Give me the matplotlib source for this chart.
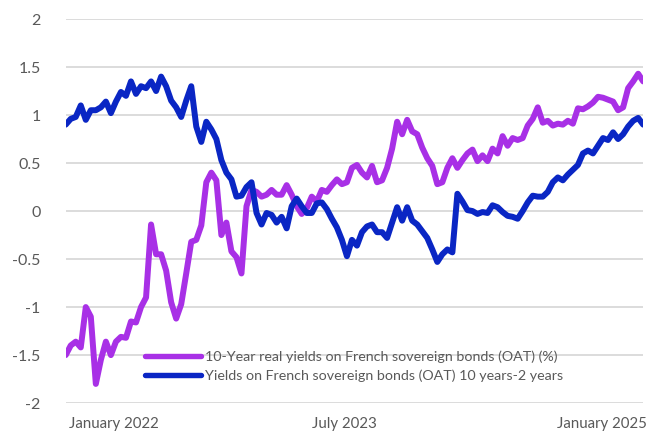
import matplotlib
matplotlib.use("Agg")
import matplotlib.pyplot as plt
import numpy as np
import pandas as pd

# ─── Data (roughly every 11 days) ───
START, END = "2021-12-24", "2025-07-15"

real_yield = [
    -1.50, -1.40, -1.36, -1.42, -1.00, -1.10, -1.80, -1.55, -1.36, -1.50,
    -1.36, -1.31, -1.32, -1.15, -1.16, -1.00, -0.90, -0.14, -0.45, -0.45,
    -0.62, -0.95, -1.12, -0.97, -0.65, -0.32, -0.30, -0.15, 0.30, 0.40,
    0.32, -0.25, -0.12, -0.42, -0.48, -0.65, 0.05, 0.22, 0.20, 0.15,
    0.17, 0.22, 0.17, 0.17, 0.27, 0.17, 0.05, -0.03, 0.03, 0.15,
    0.10, 0.22, 0.20, 0.27, 0.33, 0.28, 0.30, 0.45, 0.48, 0.40,
    0.35, 0.47, 0.30, 0.32, 0.45, 0.65, 0.93, 0.80, 0.95, 0.83,
    0.80, 0.66, 0.55, 0.47, 0.28, 0.30, 0.45, 0.55, 0.45, 0.53,
    0.60, 0.64, 0.52, 0.58, 0.52, 0.65, 0.60, 0.78, 0.68, 0.76,
    0.74, 0.76, 0.89, 0.96, 1.08, 0.92, 0.94, 0.89, 0.91, 0.90,
    0.94, 0.91, 1.07, 1.06, 1.09, 1.13, 1.19, 1.18, 1.16, 1.14,
    1.05, 1.08, 1.28, 1.35, 1.43, 1.35,
]

spread_10y_2y = [
    0.90, 0.96, 0.98, 1.10, 0.95, 1.05, 1.05, 1.08, 1.14, 1.02,
    1.14, 1.24, 1.20, 1.35, 1.22, 1.30, 1.28, 1.35, 1.25, 1.40,
    1.30, 1.15, 1.08, 0.98, 1.15, 1.30, 0.88, 0.72, 0.93, 0.85,
    0.75, 0.53, 0.40, 0.33, 0.15, 0.16, 0.25, 0.30, -0.02, -0.14,
    -0.02, -0.04, -0.12, -0.06, -0.18, 0.05, 0.13, 0.05, -0.02, -0.02,
    0.08, 0.09, 0.02, -0.08, -0.17, -0.30, -0.47, -0.30, -0.36, -0.22,
    -0.16, -0.14, -0.22, -0.22, -0.28, -0.12, 0.04, -0.10, 0.04, -0.10,
    -0.14, -0.21, -0.28, -0.40, -0.53, -0.45, -0.40, -0.43, 0.18, 0.10,
    0.01, 0.00, -0.03, -0.01, -0.02, 0.06, 0.04, -0.01, -0.05, -0.06,
    -0.08, 0.00, 0.09, 0.16, 0.15, 0.15, 0.20, 0.30, 0.35, 0.32,
    0.38, 0.43, 0.48, 0.60, 0.63, 0.60, 0.68, 0.76, 0.74, 0.82,
    0.75, 0.80, 0.88, 0.94, 0.97, 0.90,
]

LABEL_REAL = "10-Year real yields on French sovereign bonds (OAT) (%)"
LABEL_SPREAD = "Yields on French sovereign bonds (OAT) 10 years-2 years"
TICK_DATES = ["2022-01-01", "2023-07-01", "2025-01-01"]
TICK_LABELS = ["January 2022", "July 2023", "January 2025"]

PURPLE = "#a830e6"
BLUE = "#0a26c4"

plt.rcParams["font.family"] = ["Lato", "DejaVu Sans"]

dates = pd.date_range(START, END, periods=len(real_yield))

fig = plt.figure(figsize=(6.57, 4.42), dpi=100)
ax = fig.add_axes([0.100, 0.088, 0.879, 0.869])

ax.plot(dates, real_yield, color=PURPLE, linewidth=4.3, label=LABEL_REAL,
        solid_joinstyle="round", solid_capstyle="round", zorder=3)
ax.plot(dates, spread_10y_2y, color=BLUE, linewidth=4.3, label=LABEL_SPREAD,
        solid_joinstyle="round", solid_capstyle="round", zorder=3)

ax.set_ylim(-2, 2)
ax.set_xlim(dates[0], dates[-1])
ax.set_yticks(np.arange(-2, 2.01, 0.5))
ax.set_yticklabels(["-2", "-1.5", "-1", "-0.5", "0", "0.5", "1", "1.5", "2"])
ax.grid(True, axis="y", color="#d9d9d9", linewidth=1.3, zorder=0)
ax.set_axisbelow(True)

ax.set_xticks(pd.to_datetime(TICK_DATES))
ax.set_xticklabels(TICK_LABELS, ha="left")
ax.tick_params(axis="y", length=0, labelsize=11.5, colors="#595959", pad=18)
ax.tick_params(axis="x", length=0, labelsize=10.8, colors="#595959", pad=10)

for s in ax.spines.values():
    s.set_visible(False)

leg = ax.legend(loc="center left", bbox_to_anchor=(0.137, 0.096), frameon=False,
                fontsize=10.3, handlelength=3.9, handletextpad=0.3,
                labelspacing=0.5, borderpad=0, borderaxespad=0)
for t in leg.get_texts():
    t.set_color("#595959")
for h in leg.get_lines():
    h.set_linewidth(3.9)

fig.savefig("out.png", dpi=100)
